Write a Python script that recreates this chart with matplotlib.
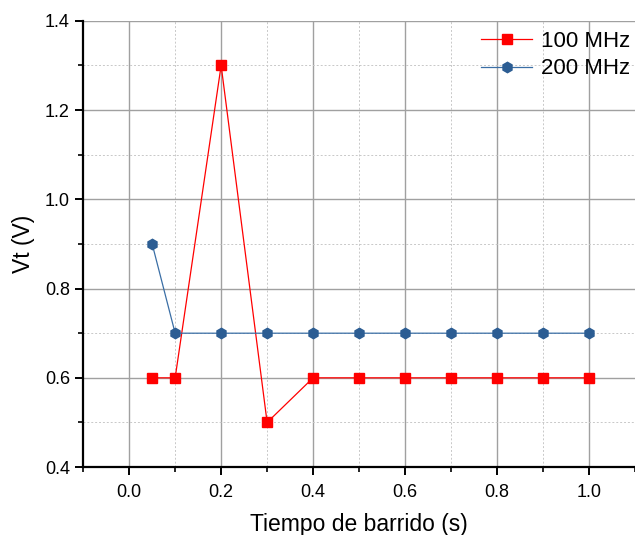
import matplotlib.pyplot as plt
from matplotlib.ticker import MultipleLocator

plt.rcParams["font.family"] = ["Liberation Sans", "DejaVu Sans"]

# sweep times (s) and threshold voltages (V)
t_100 = [0.05, 0.1, 0.2, 0.3, 0.4, 0.5, 0.6, 0.7, 0.8, 0.9, 1.0]
vt_100 = [0.6, 0.6, 1.3, 0.5, 0.6, 0.6, 0.6, 0.6, 0.6, 0.6, 0.6]
t_200 = [0.05, 0.1, 0.2, 0.3, 0.4, 0.5, 0.6, 0.7, 0.8, 0.9, 1.0]
vt_200 = [0.9, 0.7, 0.7, 0.7, 0.7, 0.7, 0.7, 0.7, 0.7, 0.7, 0.7]

fig = plt.figure(figsize=(6.35, 5.35), dpi=100)
ax = fig.add_axes([0.131, 0.127, 0.869, 0.834])

ax.plot(t_100, vt_100, color="#ff0000", linewidth=0.9, marker="s",
        markersize=7, label="100 MHz", zorder=3)
ax.plot(t_200, vt_200, color="#3a6ea5", linewidth=0.9, marker="h",
        markersize=7.5, markerfacecolor="#2c5d93", markeredgecolor="#2c5d93",
        label="200 MHz", zorder=3)

ax.set_xlim(-0.1, 1.1)
ax.set_ylim(0.4, 1.4)
ax.xaxis.set_major_locator(MultipleLocator(0.2))
ax.xaxis.set_minor_locator(MultipleLocator(0.1))
ax.yaxis.set_major_locator(MultipleLocator(0.2))
ax.yaxis.set_minor_locator(MultipleLocator(0.1))
ax.xaxis.set_major_formatter(lambda v, p: f"{v:.1f}")
ax.yaxis.set_major_formatter(lambda v, p: f"{v:.1f}")

ax.grid(True, which="major", color="#a0a0a0", linewidth=1.0)
ax.grid(True, which="minor", color="#c8c8c8", linewidth=0.7, linestyle=(0, (2, 2)))
ax.set_axisbelow(True)

for side in ("top", "right"):
    ax.spines[side].set_visible(False)
for side in ("left", "bottom"):
    ax.spines[side].set_linewidth(1.6)

ax.tick_params(which="major", direction="out", length=6, width=1.4, labelsize=13)
ax.tick_params(which="minor", direction="out", length=3.5, width=1.2)
ax.tick_params(axis="x", pad=6)

ax.set_xlabel("Tiempo de barrido (s)", fontsize=16.5, labelpad=9)
ax.set_ylabel("Vt (V)", fontsize=16.5, labelpad=7)

ax.legend(loc="upper right", frameon=False, fontsize=16, handlelength=2.3,
          handletextpad=0.4, borderaxespad=0.0, labelspacing=0.3,
          borderpad=0.2, bbox_to_anchor=(1.0, 0.988))

fig.savefig("out.png", dpi=100, facecolor="white")
